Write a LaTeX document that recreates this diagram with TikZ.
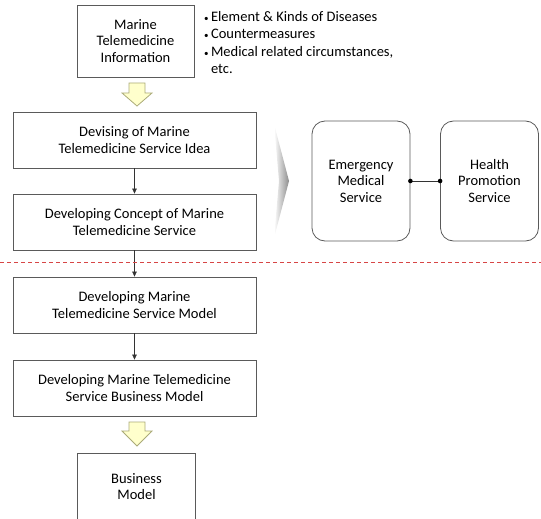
\documentclass[tikz,border=0pt]{standalone}
\usepackage{fontspec}
\setmainfont{Carlito}
\usetikzlibrary{arrows.meta}

\definecolor{boxline}{RGB}{90,90,90}
\definecolor{fatfill}{RGB}{255,255,204}
\definecolor{fatline}{RGB}{170,170,120}
\definecolor{cutline}{RGB}{215,70,70}

\begin{document}
\begin{tikzpicture}[x=1pt,y=-1pt,font=\fontsize{14.5}{16.5}\selectfont]
    \tikzstyle{every node}+=[inner sep=0pt]
    \tikzstyle{stepbox}=[draw=boxline, line width=0.8pt, minimum width=243pt, minimum height=56pt, align=center]
    \tikzstyle{svcbox}=[draw=boxline, line width=0.8pt, rounded corners=13pt, minimum width=98pt, minimum height=120pt, align=center]
    \tikzstyle{fatarrow}=[fill=fatfill, draw=fatline, line width=0.8pt, line join=miter]
    \tikzstyle{thin}=[draw=black!80, line width=0.6pt, -{Triangle[width=4.5pt,length=5pt]}]
    \useasboundingbox (0,0) rectangle (541,519);
    % left column
    \node[stepbox, minimum width=117pt, minimum height=72pt] (info) at (135.5,41) {Marine\\Telemedicine\\Information};
    \node[anchor=north west, align=left, font=\fontsize{14.5}{17.5}\selectfont] (items) at (204,11)
        {{\small\textbullet}\,Element \& Kinds of Diseases\\{\small\textbullet}\,Countermeasures\\{\small\textbullet}\,Medical related circumstances,\\\phantom{{\small\textbullet}\,}etc.};
    \node[stepbox] (idea) at (134.5,140) {Devising of Marine\\Telemedicine Service Idea};
    \node[stepbox] (concept) at (134.5,222) {Developing Concept of Marine\\Telemedicine Service};
    \node[stepbox] (model) at (134.5,305) {Developing Marine\\Telemedicine Service Model};
    \node[stepbox] (business) at (134.5,388) {Developing Marine Telemedicine\\Service Business Model};
    \node[stepbox, minimum width=118pt, minimum height=67pt] (result) at (136.5,486.5) {Business\\Model};
    % block arrows
    \draw[fatarrow] (129,83) -- (145,83) -- (145,93) -- (152,93) -- (137,106) -- (122,93) -- (129,93) -- cycle;
    \draw[fatarrow] (129,422) -- (145,422) -- (145,431) -- (152,431) -- (137,446) -- (122,431) -- (129,431) -- cycle;
    \draw[thin] (idea) -- (concept);
    \draw[thin] (concept) -- (model);
    \draw[thin] (model) -- (business);
    % phase line
    \draw[cutline, line width=0.9pt, dash pattern=on 4pt off 3pt] (0,262) -- (541,262);
    % right side
    \shade[left color=white, right color=black!45] (274,124) -- (289,181) -- (274,238) -- (279,181) -- cycle;
    \node[svcbox] (ems) at (361,181) {Emergency\\Medical\\Service};
    \node[svcbox] (hps) at (489.5,181) {Health\\Promotion\\Service};
    \draw[black!80, line width=0.8pt] (ems.east) -- (hps.west);
    \fill (ems.east) circle (2.3);
    \fill (hps.west) circle (2.3);
\end{tikzpicture}
\end{document}
